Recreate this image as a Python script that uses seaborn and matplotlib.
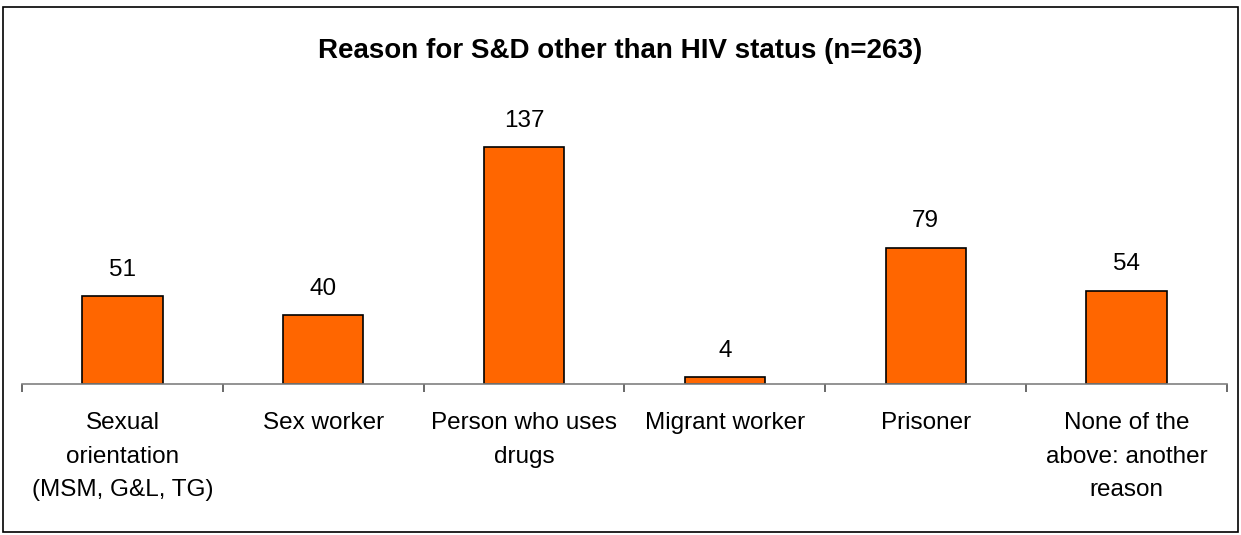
import numpy as np
import pandas as pd
import matplotlib
matplotlib.use("Agg")
import matplotlib.pyplot as plt
import seaborn as sns
from matplotlib.patches import Rectangle

# Chart data
categories = [
    "Sexual\norientation\n(MSM, G&L, TG)",
    "Sex worker",
    "Person who uses\ndrugs",
    "Migrant worker",
    "Prisoner",
    "None of the\nabove: another\nreason",
]
counts = [51, 40, 137, 4, 79, 54]
title = "Reason for S&D other than HIV status (n=263)"

df = pd.DataFrame({"Reason": categories, "Count": counts})

sns.set_style("white")
plt.rcParams["font.family"] = ["Liberation Sans", "DejaVu Sans"]
plt.rcParams["text.color"] = "black"
plt.rcParams["xtick.color"] = "black"

fig = plt.figure(figsize=(12.41, 5.35), dpi=100)
ax = fig.add_axes([22 / 1241, 1 - 384 / 535, 1205 / 1241, 259 / 535])

sns.barplot(data=df, x="Reason", y="Count", color="#FF6600", width=0.4,
            edgecolor="black", linewidth=1.2, saturation=1, ax=ax)
ax.bar_label(ax.containers[0], padding=11, fontsize=17.5, color="black")

ax.set_ylim(0, 150)
ax.set_xlim(-0.5, len(categories) - 0.5)
ax.set_xlabel("")
ax.set_ylabel("")
ax.set_yticks([])
for s in ["top", "left", "right"]:
    ax.spines[s].set_visible(False)
ax.spines["bottom"].set_color("#808080")
ax.spines["bottom"].set_linewidth(1.2)

ax.tick_params(axis="x", which="major", bottom=False, pad=17, labelsize=17.5, labelcolor="black")
ax.set_xticks(np.arange(len(categories) + 1) - 0.5, minor=True)
ax.tick_params(axis="x", which="minor", bottom=True, length=6, width=1.2, color="#505050",
               direction="out")
for lab in ax.get_xticklabels():
    lab.set_linespacing(1.65)
    lab.set_va("top")

fig.text(0.5, 1 - 51 / 535, title, ha="center", va="center", fontsize=20, fontweight="bold",
         color="black")

# border around the whole chart
fig.patches.append(Rectangle((3 / 1241, 3 / 535), 1235 / 1241, 525 / 535, transform=fig.transFigure,
                             fill=False, edgecolor="black", linewidth=1.2))

fig.savefig("out.png", dpi=100)
